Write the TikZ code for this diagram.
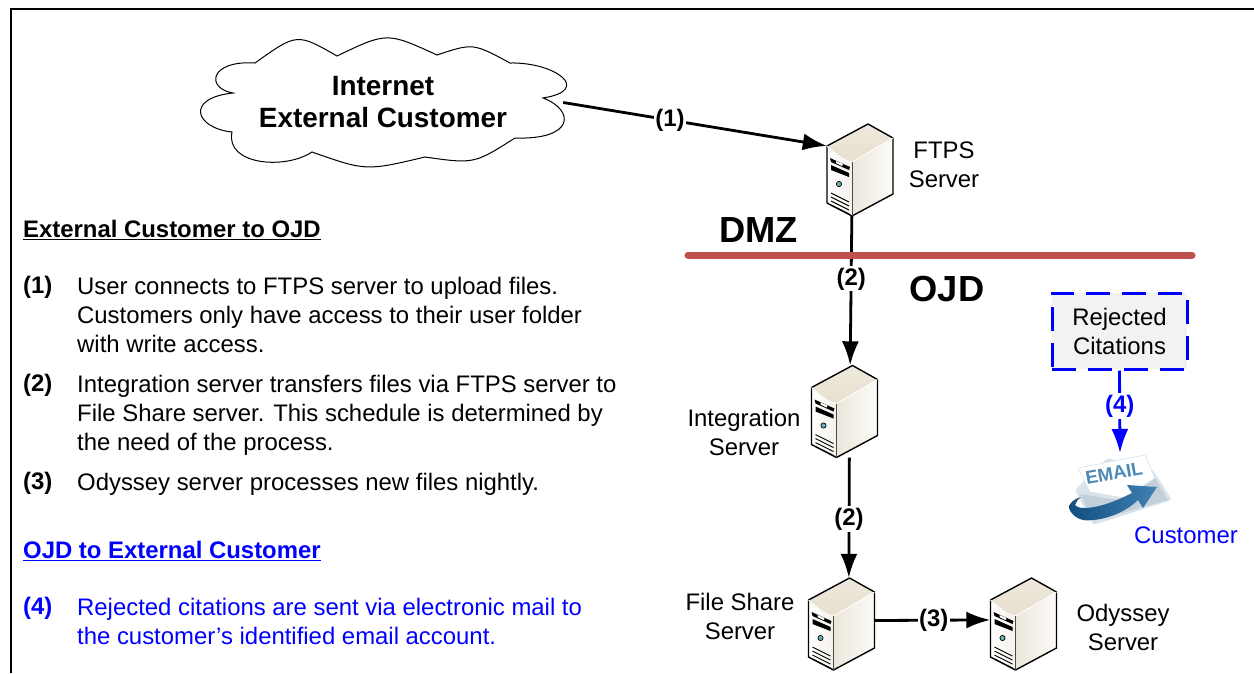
\documentclass[tikz,border=0pt]{standalone}
\usepackage{fontspec}
\setmainfont{Liberation Sans}
\usetikzlibrary{arrows.meta}
\definecolor{dmzred}{HTML}{C0504D}
\definecolor{mailblue}{HTML}{0000FF}
\definecolor{swoosh}{HTML}{1F6BA5}
\definecolor{swooshdark}{HTML}{124F80}
\definecolor{mailgrey}{HTML}{C3D0DC}
\definecolor{servertan}{HTML}{D6C9AC}
\newcommand{\sizeText}{\fontsize{23.9}{29}\selectfont}
\newcommand{\sizeZone}{\fontsize{36.3}{40}\selectfont\bfseries}
\newcommand{\sizeLed}{2.6}

\tikzset{
	serverbox/.style={rectangle, minimum width=66pt, minimum height=92pt, inner sep=0pt},
	zonetext/.style={font=\sizeZone},
	bodytext/.style={font=\sizeText, align=left, anchor=west, inner sep=0pt},
	boldtext/.style={font=\sizeText\bfseries, anchor=west, inner sep=0pt},
	servertext/.style={font=\sizeText, align=center, inner sep=0pt},
	link/.style={line width=2.8pt, -{Latex[length=24pt,width=17pt]}},
	linklabel/.style={font=\sizeText\bfseries, fill=white, inner sep=1.5pt},
	pics/server/.style={code={
		\fill[left color=white, right color=servertan!25!white] (-33,-24) .. controls (-20,-12) and (-14,-9) .. (-8,-8) -- (-8,46) -- (-33,33) -- cycle;
		\fill[top color=servertan!40!white, bottom color=servertan!60!white] (-33,-24) -- (8,-46) -- (33,-32) -- (-8,-8) .. controls (-14,-9) and (-20,-12) .. cycle;
		\shade[left color=servertan!45!white, middle color=servertan, right color=servertan!8!white] (-8,-8) -- (33,-32) -- (33,24) -- (-8,46) -- cycle;
		\draw[line width=1.4pt, line join=round] (-33,-24) -- (8,-46) -- (33,-32) -- (33,24) -- (-8,46) -- (-33,33) -- cycle;
		\draw[line width=0.9pt, white] (-33,-24) .. controls (-20,-12) and (-14,-9) .. (-8,-8) -- (33,-32);
		\draw[line width=0.7pt, black!70] (-8,-8) -- (-8,46);
		\fill (-30,-12) -- (-10,-3) -- (-11,0) -- (-29,-8) -- cycle;
		\fill[white] (-24,-9) -- (-17,-6) -- (-18,-4) -- (-24,-7) -- cycle;
		\fill (-29,-5) -- (-11,3) -- (-11,7) -- (-29,0) -- cycle;
		\draw[fill=teal!60, line width=0.7pt] (-21,14) circle(\sizeLed);
		\foreach \k in {0,1,2,3}{
			\draw[line width=0.9pt] (-29,23+4*\k) -- (-11,32+4*\k);
		}
	}},
}

\begin{document}
\begin{tikzpicture}[x=1pt, y=-1pt]
	\useasboundingbox (0,0) rectangle (1254,673);
	% frame
	\draw[line width=2pt] (11,673) -- (11,9) -- (1254,9);

	% cloud
	\draw[line width=1pt] (255,63) .. controls (297,33) .. (337,56)
		.. controls (387,32) .. (437,55)
		.. controls (473,43) .. (510,63)
		.. controls (555,62) and (593,90) .. (543,98)
		.. controls (575,110) and (575,140) .. (515,138)
		.. controls (474,164) .. (425,157)
		.. controls (366,171) .. (312,152)
		.. controls (285,170) and (225,165) .. (232,132)
		.. controls (195,128) and (185,98) .. (233,93)
		.. controls (205,88) and (210,60) .. (255,63) -- cycle;
	\node[font=\fontsize{27.9}{32}\selectfont\bfseries, align=center, minimum width=360pt, inner sep=0pt] (internet) at (383,102.5) {Internet\\External Customer};

	% servers
	\foreach \name/\x/\y in {ftps/860/170, integration/844.5/411.5, fileshare/841.5/624, odyssey/1023.5/624}{
		\node[serverbox] (\name) at (\x,\y) {};
		\pic at (\name) {server};
	}
	\node[servertext] (ftpstext) at (944,164.5) {FTPS\\Server};
	\node[servertext] (integrationtext) at (744,432.5) {Integration\\Server};
	\node[servertext] (filesharetext) at (740,616.5) {File Share\\Server};
	\node[servertext] (odysseytext) at (1123,627.5) {Odyssey\\Server};

	% connectors
	\draw[link] (internet.east) -- node[linklabel, pos=0.405] {(1)} (ftps.144);
	\draw[link] (ftps.260) -- node[linklabel, pos=0.42] {(2)} (integration.83);
	\draw[link] (integration.276) -- node[linklabel, pos=0.51] {(2)} (fileshare.81);
	\draw[link] (fileshare.6) -- node[linklabel, pos=0.51] {(3)} (odyssey.173);

	% zones
	\node[zonetext] (dmz) at (758.5,230) {DMZ};
	\node[zonetext] (ojd) at (947,289) {OJD};
	\coordinate (zonestart) at (688,255);
	\coordinate (zoneend) at (1192,255);
	\draw[dmzred, line width=7pt, line cap=round] (zonestart) -- (zoneend);

	% rejected citations
	\node[draw=mailblue, fill=black!5, line width=3pt, dash pattern=on 24pt off 12pt, minimum width=135pt, minimum height=76pt, font=\sizeText, align=center, inner sep=0pt] (rejected) at (1119.5,331) {Rejected\\Citations};
	\coordinate (email) at (1120,453);
	% envelope
	\fill[mailgrey!60!white, rounded corners=3pt] (1075,490) -- (1107,458) -- (1153,470) -- (1172,500) -- (1093,525) -- cycle;
	\fill[mailgrey] (1080,494) -- (1125,501) -- (1153,474) -- (1168,500) -- (1094,521) -- cycle;
	\draw[fill=white, draw=mailgrey!60!white, line width=0.6pt, rounded corners=1pt] (1078,468) -- (1145,455) -- (1155,478) -- (1125,498) -- (1090,492) -- cycle;
	\node[font=\fontsize{18.5}{20}\selectfont\bfseries, text=swoosh!80!white, rotate=10, inner sep=0pt] (emailword) at (1114,473) {EMAIL};
	\shade[left color=swooshdark, right color=swoosh!85!white] (1157,487) -- (1127,485) -- (1132,493) .. controls (1118,500) and (1100,508) .. (1084,508) .. controls (1078,508) and (1076,506) .. (1075,505) .. controls (1076,502) and (1078,499) .. (1081,497) .. controls (1074,499) and (1069,503) .. (1069,508) .. controls (1072,517) and (1082,522) .. (1092,520) .. controls (1110,519) and (1128,510) .. (1138,500) -- (1143,508) -- cycle;
	\draw[mailblue, link] (rejected.south) -- node[linklabel, text=mailblue, pos=0.43] {(4)} (email);
	\node[font=\sizeText, text=mailblue, inner sep=0pt] (customer) at (1186,535) {Customer};

	% left column
	\node[boldtext] (headone) at (23,230) {\underline{External Customer to OJD}};
	\node[boldtext] (numone) at (23,287) {(1)};
	\node[bodytext] (stepone) at (77,315) {User connects to FTPS server to upload files.\\Customers only have access to their user folder\\with write access.};
	\node[boldtext] (numtwo) at (23,385) {(2)};
	\node[bodytext] (steptwo) at (77,415) {Integration server transfers files via FTPS server to\\File Share server. This schedule is determined by\\the need of the process.};
	\node[boldtext] (numthree) at (23,483) {(3)};
	\node[bodytext] (stepthree) at (77,484) {Odyssey server processes new files nightly.};
	\node[boldtext, text=mailblue] (headtwo) at (23,551) {\underline{OJD to External Customer}};
	\node[boldtext, text=mailblue] (numfour) at (23,608) {(4)};
	\node[bodytext, text=mailblue] (stepfour) at (77,621.5) {Rejected citations are sent via electronic mail to\\the customer’s identified email account.};
\end{tikzpicture}
\end{document}
